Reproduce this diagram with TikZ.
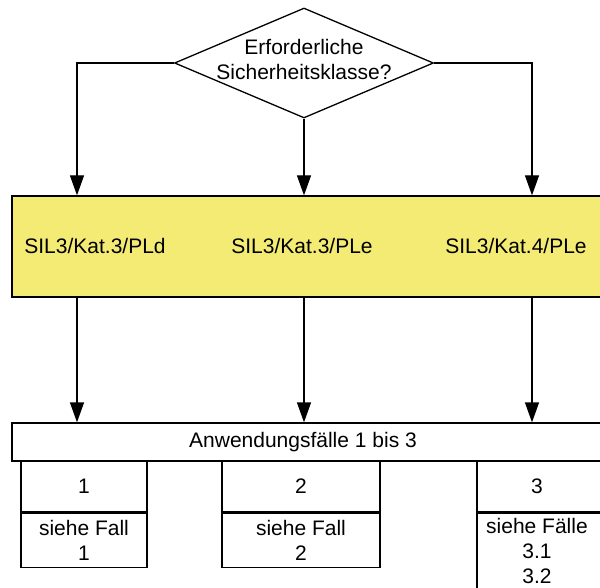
\documentclass[tikz,border=0pt]{standalone}
\usepackage{fontspec}
\setmainfont{Liberation Sans}
\usetikzlibrary{shapes.geometric,arrows.meta,positioning}
\definecolor{sil_yellow}{RGB}{243,235,115}

\begin{document}
\begin{tikzpicture}[x=1pt, y=-1pt, line width=1.3pt,
  font=\fontsize{21}{25}\selectfont,
  flow/.style={-{Triangle[length=20pt,width=14pt]}},
  box/.style={draw, rectangle, inner sep=0pt, align=center}]
\useasboundingbox (0,0) rectangle (600,588);

\node[diamond, draw, minimum width=259pt, minimum height=110pt, inner sep=0pt] (frage) at (304,63) {};
\node[align=center] (frage_text) at (304,59) {Erforderliche\\Sicherheitsklasse?};

\node[box, fill=sil_yellow, minimum width=608pt, minimum height=101pt] (klasse) at (316,246.5) {};
\node (sil1) at (95,246) {SIL3/Kat.3/PLd};
\node (sil2) at (302,246) {SIL3/Kat.3/PLe};
\node (sil3) at (516,246) {SIL3/Kat.4/PLe};

\node[box, minimum width=608pt, minimum height=38pt] (faelle) at (316,442) {};
\node (faelle_text) at (303,442) {Anwendungsfälle 1 bis 3};

\node[box, minimum width=126pt, minimum height=51pt] (fall1) at (84,486.5) {1};
\node[box, minimum width=126pt, minimum height=54pt, below=0pt of fall1] (info1) {siehe Fall\\1};
\node[box, minimum width=158pt, minimum height=51pt] (fall2) at (301,486.5) {2};
\node[box, minimum width=158pt, minimum height=54pt, below=0pt of fall2] (info2) {siehe Fall\\2};
\node[box, minimum width=140pt, minimum height=51pt] (fall3) at (547,486.5) {};
\node[box, minimum width=140pt, minimum height=90pt, below=0pt of fall3] (info3) {};
\node (fall3_text) at (537,486.5) {3};
\node[align=center, below=2pt of fall3_text |- fall3.south] (info3_text) {siehe Fälle\\3.1\\3.2};

\foreach \col/\x in {1/77, 2/304, 3/532}
  \coordinate (col\col) at (\x,0);
\draw[flow] (frage.west) -| (col1 |- klasse.north);
\draw[flow] (frage.south) -- (col2 |- klasse.north);
\draw[flow] (frage.east) -| (col3 |- klasse.north);
\foreach \col in {1,2,3}
  \draw[flow] (col\col |- klasse.south) -- (col\col |- faelle.north);
\end{tikzpicture}
\end{document}
